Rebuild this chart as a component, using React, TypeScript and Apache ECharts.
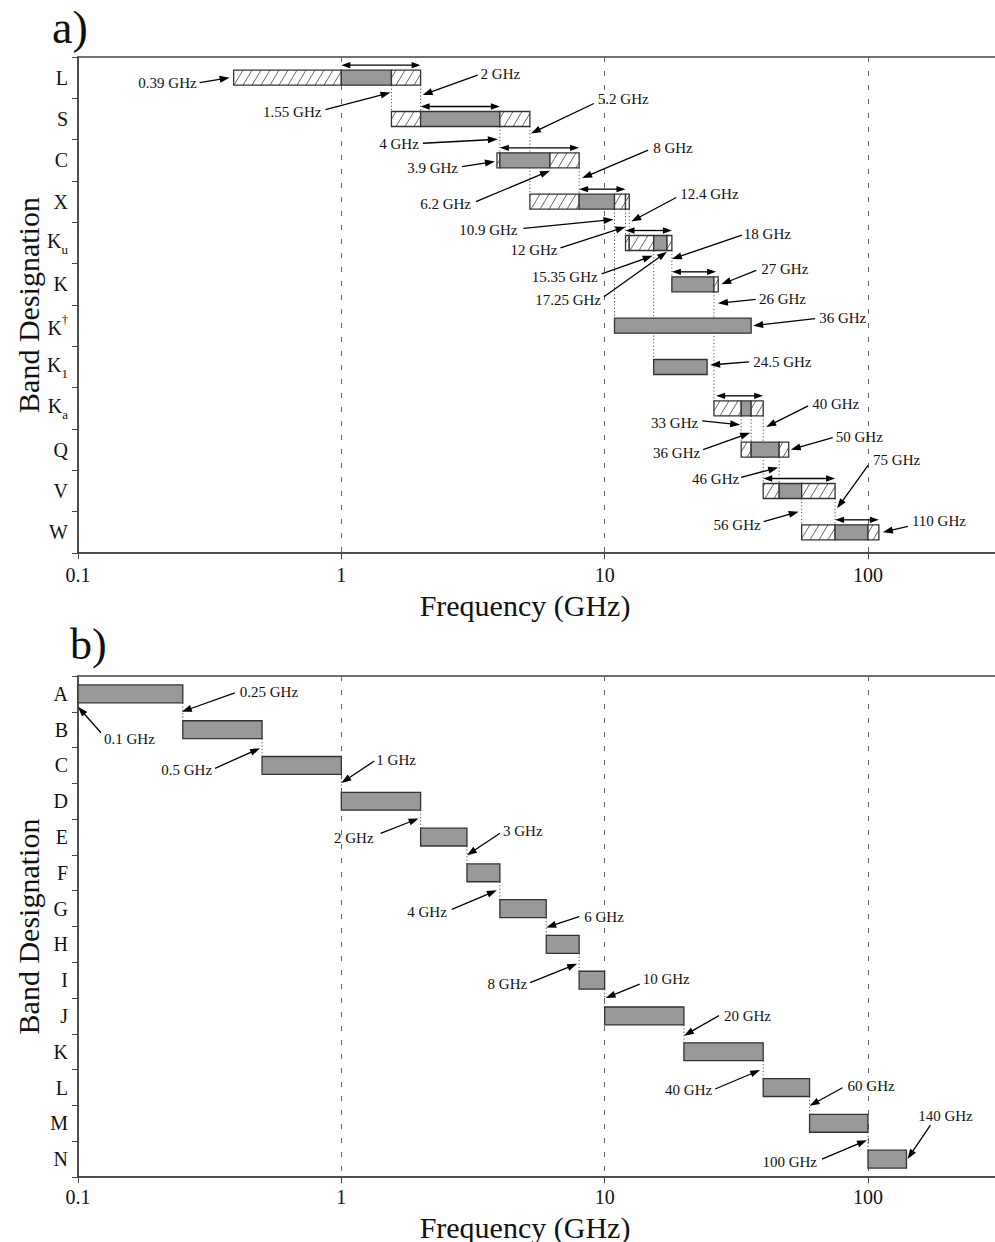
import React, { useEffect, useRef } from "react";
import * as echarts from "echarts";

const FONT = "'Liberation Serif', 'Times New Roman', 'DejaVu Serif', serif";

// ---------------- panel a data ----------------
const bandsA = ["L", "S", "C", "X", "Ku", "K", "K†", "K1", "Ka", "Q", "V", "W"];
// [band, start GHz, end GHz, solid(1) / hatched(0)]
const segmentsA: [string, number, number, number][] = [
  ["L", 0.39, 1, 0], ["L", 1, 1.55, 1], ["L", 1.55, 2, 0],
  ["S", 1.55, 2, 0], ["S", 2, 4, 1], ["S", 4, 5.2, 0],
  ["C", 3.9, 4, 0], ["C", 4, 6.2, 1], ["C", 6.2, 8, 0],
  ["X", 5.2, 8, 0], ["X", 8, 10.9, 1], ["X", 10.9, 12, 0], ["X", 12, 12.4, 0],
  ["Ku", 12, 12.4, 0], ["Ku", 12.4, 15.35, 0], ["Ku", 15.35, 17.25, 1], ["Ku", 17.25, 18, 0],
  ["K", 18, 26, 1], ["K", 26, 27, 0],
  ["K†", 10.9, 36, 1],
  ["K1", 15.35, 24.5, 1],
  ["Ka", 26, 33, 0], ["Ka", 33, 36, 1], ["Ka", 36, 40, 0],
  ["Q", 33, 36, 0], ["Q", 36, 46, 1], ["Q", 46, 50, 0],
  ["V", 40, 46, 0], ["V", 46, 56, 1], ["V", 56, 75, 0],
  ["W", 56, 75, 0], ["W", 75, 100, 1], ["W", 100, 110, 0],
];
// nominal ranges shown by double arrows: [band, from, to]
const nominalA: [string, number, number][] = [
  ["L", 1, 2], ["S", 2, 4], ["C", 4, 8], ["X", 8, 12], ["Ku", 12, 18],
  ["K", 18, 26.5], ["Ka", 26.5, 40], ["V", 40, 75], ["W", 75, 110],
];
// dotted connectors: [freq, from band, to band]
const linksA: [number, string, string][] = [
  [1.55, "L", "S"], [2, "L", "S"], [4, "S", "C"], [5.2, "S", "X"], [8, "C", "X"],
  [10.9, "X", "K†"], [12, "X", "Ku"], [12.4, "X", "Ku"], [15.35, "Ku", "K1"],
  [18, "Ku", "K"], [26, "K", "Ka"], [33, "Ka", "Q"], [36, "Ka", "Q"], [40, "Ka", "V"],
  [46, "Q", "V"], [56, "V", "W"], [75, "V", "W"],
];
// annotations: [text, freq, band]
const labelsA: [string, number, string][] = [
  ["0.39 GHz", 0.39, "L"], ["2 GHz", 2, "L"], ["1.55 GHz", 1.55, "L"],
  ["4 GHz", 4, "S"], ["5.2 GHz", 5.2, "S"],
  ["3.9 GHz", 3.9, "C"], ["6.2 GHz", 6.2, "C"], ["8 GHz", 8, "C"],
  ["12.4 GHz", 12.4, "X"], ["10.9 GHz", 10.9, "X"], ["12 GHz", 12, "X"],
  ["18 GHz", 18, "Ku"], ["15.35 GHz", 15.35, "Ku"], ["17.25 GHz", 17.25, "Ku"],
  ["27 GHz", 27, "K"], ["26 GHz", 26, "K"],
  ["36 GHz", 36, "K†"], ["24.5 GHz", 24.5, "K1"],
  ["40 GHz", 40, "Ka"], ["33 GHz", 33, "Ka"], ["36 GHz", 36, "Ka"],
  ["50 GHz", 50, "Q"], ["46 GHz", 46, "Q"],
  ["75 GHz", 75, "V"], ["56 GHz", 56, "V"], ["110 GHz", 110, "W"],
];
// layout of each annotation: [tipDx, tip row fraction, tailDx, tailDy, textDx, textDy, align]
const layoutA: [number, number, number, number, number, number, string][] = [
  [-4, 0, -30, 5, -3, 0, "right"],
  [2, 0.42, 55, -20, 3, -1, "left"],
  [-1, 0.36, -65, 17, -4, 2, "right"],
  [-2, 0.49, -75, 4, -4, 1, "right"],
  [1, 0.35, 63, -30, 4, -4, "left"],
  [-2, 0.03, -33, 5, -4, 1, "right"],
  [0, 0.25, -74, 31, -5, 2, "right"],
  [3, 0.43, 66, -28, 5, -2, "left"],
  [2, 0.48, 45, -24, 4, -4, "left"],
  [-1, 0.43, -90, 9, -6, 2, "right"],
  [0, 0.61, -65, 21, -3, 2, "right"],
  [0, 0.39, 70, -24, 2, -1, "left"],
  [-1, 0.31, -51, 18, -4, 3, "right"],
  [0, 0.21, -63, 45, -3, 3, "right"],
  [3, 0, 35, -14, 5, -1, "left"],
  [4, 0.46, 38, -4, 3, 0, "left"],
  [2, 0, 62, -7, 4, -1, "left"],
  [3, -0.05, 39, -3, 4, 0, "left"],
  [3, 0.45, 42, -21, 4, -2, "left"],
  [-1, 0.4, -38, -4, -4, 2, "right"],
  [-1, 0.59, -47, 17, -3, 3, "right"],
  [2, 0, 42, -12, 3, -1, "left"],
  [-1, 0.43, -37, 10, -2, 2, "right"],
  [2, 0.42, 31, -43, 5, -5, "left"],
  [-3, 0.5, -35, 10, -3, 3, "right"],
  [4, 0, 25, -6, 4, -5, "left"],
];

// ---------------- panel b data ----------------
const bandsB = ["A", "B", "C", "D", "E", "F", "G", "H", "I", "J", "K", "L", "M", "N"];
const startB = [0.1, 0.25, 0.5, 1, 2, 3, 4, 6, 8, 10, 20, 40, 60, 100];
const endB = [0.25, 0.5, 1, 2, 3, 4, 6, 8, 10, 20, 40, 60, 100, 140];
const labelsB: [string, number, string][] = [
  ["0.1 GHz", 0.1, "A"], ["0.25 GHz", 0.25, "A"], ["0.5 GHz", 0.5, "B"],
  ["1 GHz", 1, "C"], ["2 GHz", 2, "D"], ["3 GHz", 3, "E"], ["4 GHz", 4, "F"],
  ["6 GHz", 6, "G"], ["8 GHz", 8, "H"], ["10 GHz", 10, "I"], ["20 GHz", 20, "J"],
  ["40 GHz", 40, "K"], ["60 GHz", 60, "L"], ["100 GHz", 100, "M"], ["140 GHz", 140, "N"],
];
const layoutB: [number, number, number, number, number, number, string][] = [
  [0, 0.36, 23, 26, 3, 6, "left"],
  [-1, 0.5, 53, -19, 5, -1, "left"],
  [-2, 0.52, -45, 20, -3, 2, "right"],
  [0, 0.49, 33, -22, 2, -1, "left"],
  [-2, 0.48, -38, 15, -7, 5, "right"],
  [0, 0.51, 33, -22, 3, -2, "left"],
  [-3, 0.49, -45, 19, -5, 3, "right"],
  [0, 0.53, 33, -11, 5, 0, "left"],
  [-2, 0.54, -47, 19, -3, 1, "right"],
  [1, 0.5, 34, -14, 3, -5, "left"],
  [0, 0.55, 35, -20, 5, 0, "left"],
  [-3, 0.51, -45, 19, -3, 1, "right"],
  [0, 0.51, 33, -18, 5, -2, "left"],
  [-1, 0.47, -45, 19, -5, 3, "right"],
  [1, 0, 23, -34, 15, -9, "center"],
];

const xTickLabels = ["0.1", "1", "10", "100"];

// ---------------- helpers ----------------
const BAR_A = 0.363;
const BAR_B = 0.5;
const SOLID = "#999999";
const EDGE = "#333333";

function bandHeight(api: any) {
  return Math.abs(api.coord([1, 1])[1] - api.coord([1, 0])[1]);
}

function arrowHead(tip: number[], tail: number[], len: number, half: number) {
  const dx = tip[0] - tail[0];
  const dy = tip[1] - tail[1];
  const L = Math.hypot(dx, dy) || 1;
  const ux = dx / L, uy = dy / L;
  const bx = tip[0] - ux * len, by = tip[1] - uy * len;
  return {
    poly: {
      type: "polygon",
      shape: { points: [[tip[0], tip[1]], [bx - uy * half, by + ux * half], [bx + uy * half, by - ux * half]] },
      style: { fill: "#000", stroke: null },
    },
    base: [tip[0] - ux * (len - 1), tip[1] - uy * (len - 1)],
  };
}

function barRender(getSeg: (i: number) => [number, number, number, number], frac: number) {
  return (params: any, api: any) => {
    const [a, b, r, solid] = getSeg(params.dataIndex);
    const p0 = api.coord([a, r]);
    const p1 = api.coord([b, r]);
    const h = bandHeight(api) * frac;
    const x0 = p0[0], x1 = p1[0];
    const y0 = p0[1] - h / 2, y1 = p0[1] + h / 2;
    const children: any[] = [];
    children.push({
      type: "rect",
      shape: { x: x0, y: y0, width: x1 - x0, height: h },
      style: { fill: solid ? SOLID : "#fff", stroke: null },
    });
    if (!solid) {
      const run = h * 0.6;
      const sp = 9;
      for (let bx = Math.floor((x0 - run) / sp) * sp; bx < x1; bx += sp) {
        const t0 = Math.max(0, (x0 - bx) / run);
        const t1 = Math.min(1, (x1 - bx) / run);
        if (t1 <= t0) continue;
        children.push({
          type: "line",
          shape: { x1: bx + t0 * run, y1: y1 - t0 * h, x2: bx + t1 * run, y2: y1 - t1 * h },
          style: { stroke: "#555", lineWidth: 0.9 },
        });
      }
    }
    children.push({
      type: "rect",
      shape: { x: x0, y: y0, width: x1 - x0, height: h },
      style: { fill: null, stroke: EDGE, lineWidth: 1.3 },
    });
    return { type: "group", children };
  };
}

function linkRender(getLink: (i: number) => [number, number, number], frac: number) {
  return (params: any, api: any) => {
    const [f, r0, r1] = getLink(params.dataIndex);
    const h = bandHeight(api) * frac;
    const p0 = api.coord([f, r0]);
    const p1 = api.coord([f, r1]);
    return {
      type: "line",
      shape: { x1: p0[0], y1: p0[1] + h / 2, x2: p1[0], y2: p1[1] - h / 2 },
      style: { stroke: "#555", lineWidth: 1, lineDash: [1.2, 2.2] },
    };
  };
}

function nominalRender(params: any, api: any) {
  const [band, a, b] = nominalA[params.dataIndex];
  const r = bandsA.indexOf(band);
  const p0 = api.coord([a, r]);
  const p1 = api.coord([b, r]);
  const h = bandHeight(api) * BAR_A;
  const y = p0[1] - h / 2 - 5;
  const L = 9, w = 3.2;
  return {
    type: "group",
    children: [
      { type: "line", shape: { x1: p0[0] + L - 1, y1: y, x2: p1[0] - L + 1, y2: y }, style: { stroke: "#000", lineWidth: 1.3 } },
      { type: "polygon", shape: { points: [[p0[0], y], [p0[0] + L, y - w], [p0[0] + L, y + w]] }, style: { fill: "#000" } },
      { type: "polygon", shape: { points: [[p1[0], y], [p1[0] - L, y - w], [p1[0] - L, y + w]] }, style: { fill: "#000" } },
    ],
  };
}

function annotRender(labels: [string, number, string][], layout: any[], cats: string[]) {
  return (params: any, api: any) => {
    const i = params.dataIndex;
    const [text, f, band] = labels[i];
    const [tipDx, frac, tdx, tdy, txDx, txDy, align] = layout[i];
    const r = cats.indexOf(band);
    const c = api.coord([f, r]);
    const bh = bandHeight(api);
    const tip = [c[0] + tipDx, c[1] + frac * bh];
    const tail = [tip[0] + tdx, tip[1] + tdy];
    const head = arrowHead(tip, tail, 10, 3.5);
    return {
      type: "group",
      children: [
        { type: "line", shape: { x1: tail[0], y1: tail[1], x2: head.base[0], y2: head.base[1] }, style: { stroke: "#000", lineWidth: 1.3 } },
        head.poly,
        {
          type: "text",
          x: tail[0] + txDx,
          y: tail[1] + txDy,
          style: {
            text,
            font: `15px ${FONT}`,
            fill: "#111",
            align,
            verticalAlign: "middle",
            textAlign: align,
            textVerticalAlign: "middle",
          },
        },
      ],
    };
  };
}

function catLabelA(v: string) {
  if (v === "Ku") return "{k|K}{sub|u}";
  if (v === "K1") return "{k|K}{sub|1}";
  if (v === "Ka") return "{k|K}{sub|a}";
  if (v === "K†") return "{kb|K}{sup|†}";
  return "{m|" + v + "}";
}

function xLabel(val: any) {
  const v = Number(val);
  const l = Math.log10(v);
  const n = Math.round(l);
  if (Math.abs(l - n) > 1e-6 || n < -1 || n > 2) return "";
  return xTickLabels[n + 1];
}

function makeXAxis(gridIndex: number, nameGap: number, labelMargin: number) {
  return {
    type: "log",
    logBase: 10,
    gridIndex,
    min: 0.1,
    max: 320,
    name: "Frequency (GHz)",
    nameLocation: "middle",
    nameGap,
    nameMoveOverlap: false,
    nameTextStyle: { fontSize: 30, fontFamily: FONT, color: "#111", padding: [0, 29, 0, 0] },
    axisLine: { show: true, lineStyle: { color: "#444", width: 1.5 } },
    axisTick: { show: true, length: 6, lineStyle: { color: "#444", width: 1 } },
    minorTick: { show: false },
    axisLabel: { formatter: xLabel, fontSize: 20, fontFamily: FONT, color: "#111", margin: labelMargin, showMaxLabel: false },
    splitLine: { show: true, lineStyle: { color: "#666", width: 1, type: [5, 9] } },
  };
}

function makeYAxis(gridIndex: number, cats: string[], rich: boolean) {
  const base = { fontSize: 20, fontFamily: FONT, color: "#111" };
  return {
    type: "category",
    gridIndex,
    data: cats,
    inverse: true,
    name: "Band Designation",
    nameLocation: "middle",
    nameGap: 35,
    nameMoveOverlap: false,
    nameTextStyle: { fontSize: 30, fontFamily: FONT, color: "#111" },
    axisLine: { show: true, lineStyle: { color: "#444", width: 1.5 } },
    axisTick: { show: true, length: 6, lineStyle: { color: "#444", width: 1 } },
    axisLabel: rich
      ? {
          interval: 0,
          margin: 10,
          formatter: catLabelA,
          rich: {
            m: { ...base },
            k: { ...base, verticalAlign: "top" },
            kb: { ...base, verticalAlign: "bottom" },
            sub: { fontSize: 13, fontFamily: FONT, color: "#111", verticalAlign: "bottom", padding: [12, 0, 0, 0] },
            sup: { fontSize: 12, fontFamily: FONT, color: "#111", verticalAlign: "top", padding: [0, 0, 12, 0] },
          },
        }
      : { interval: 0, margin: 10, ...base },
    splitLine: { show: false },
  };
}

export default function App() {
  const ref = useRef<HTMLDivElement>(null);
  useEffect(() => {
    if (!ref.current) return;
    const chart = echarts.init(ref.current, undefined, { renderer: "svg" });

    const segDataA = segmentsA.map((s) => [s[1], bandsA.indexOf(s[0]), s[2]]);
    const linkDataA = linksA.map((l) => [l[0], bandsA.indexOf(l[1])]);
    const nomData = nominalA.map((n) => [n[1], bandsA.indexOf(n[0]), n[2]]);
    const annDataA = labelsA.map((l) => [l[1], bandsA.indexOf(l[2])]);

    const segDataB = bandsB.map((_, i) => [startB[i], i, endB[i]]);
    const linksB: [number, number, number][] = [];
    for (let i = 0; i < bandsB.length - 1; i++) {
      if (endB[i] === startB[i + 1]) linksB.push([endB[i], i, i + 1]);
    }
    const linkDataB = linksB.map((l) => [l[0], l[1]]);
    const annDataB = labelsB.map((l) => [l[1], bandsB.indexOf(l[2])]);

    const gridCommon = { show: true, borderColor: "#444", borderWidth: 1.5, backgroundColor: "transparent", containLabel: false, outerBoundsMode: "none" };

    chart.setOption({
      animation: false,
      backgroundColor: "#fff",
      grid: [
        { ...gridCommon, left: 78, top: 57, width: 923, height: 496 },
        { ...gridCommon, left: 78, top: 676, width: 923, height: 501 },
      ],
      xAxis: [makeXAxis(0, 37, 12), makeXAxis(1, 35, 10)],
      yAxis: [makeYAxis(0, bandsA, true), makeYAxis(1, bandsB, false)],
      graphic: [
        { type: "text", left: 52, top: 4, style: { text: "a)", font: `46px ${FONT}`, fill: "#111" } },
        { type: "text", left: 70, top: 622, style: { text: "b)", font: `44px ${FONT}`, fill: "#111" } },
      ],
      series: [
        {
          type: "custom", xAxisIndex: 0, yAxisIndex: 0, z: 1, silent: true,
          data: linkDataA, encode: { x: 0, y: 1 },
          renderItem: linkRender((i) => [linksA[i][0], bandsA.indexOf(linksA[i][1]), bandsA.indexOf(linksA[i][2])], BAR_A),
        },
        {
          type: "custom", xAxisIndex: 0, yAxisIndex: 0, z: 2, silent: true,
          data: segDataA, encode: { x: [0, 2], y: 1 },
          renderItem: barRender((i) => [segmentsA[i][1], segmentsA[i][2], bandsA.indexOf(segmentsA[i][0]), segmentsA[i][3]], BAR_A),
        },
        {
          type: "custom", xAxisIndex: 0, yAxisIndex: 0, z: 3, silent: true,
          data: nomData, encode: { x: [0, 2], y: 1 },
          renderItem: nominalRender,
        },
        {
          type: "custom", xAxisIndex: 0, yAxisIndex: 0, z: 4, silent: true,
          data: annDataA, encode: { x: 0, y: 1 },
          renderItem: annotRender(labelsA, layoutA, bandsA),
        },
        {
          type: "custom", xAxisIndex: 1, yAxisIndex: 1, z: 1, silent: true,
          data: linkDataB, encode: { x: 0, y: 1 },
          renderItem: linkRender((i) => linksB[i], BAR_B),
        },
        {
          type: "custom", xAxisIndex: 1, yAxisIndex: 1, z: 2, silent: true,
          data: segDataB, encode: { x: [0, 2], y: 1 },
          renderItem: barRender((i) => [startB[i], endB[i], i, 1], BAR_B),
        },
        {
          type: "custom", xAxisIndex: 1, yAxisIndex: 1, z: 4, silent: true,
          data: annDataB, encode: { x: 0, y: 1 },
          renderItem: annotRender(labelsB, layoutB, bandsB),
        },
      ],
    });
    return () => chart.dispose();
  }, []);
  return <div ref={ref} style={{ position: "absolute", left: 0, top: 0, width: 995, height: 1242 }} />;
}
